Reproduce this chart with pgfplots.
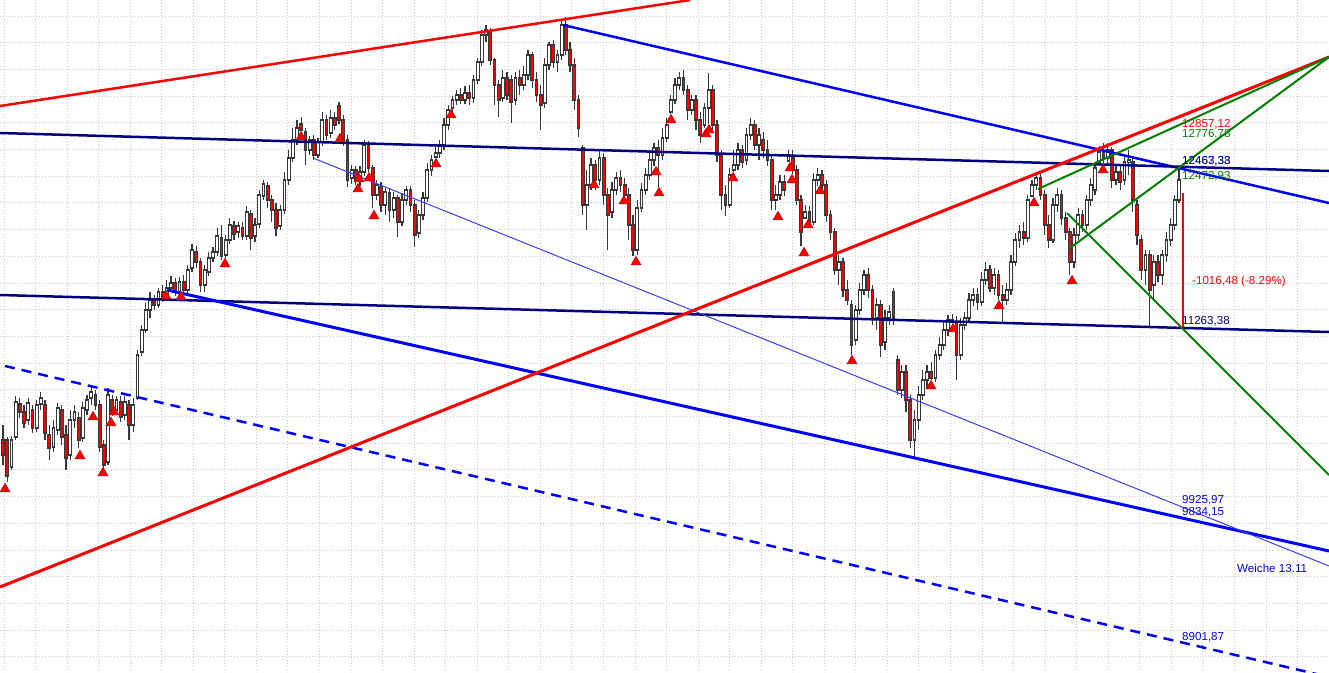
\documentclass[border=0pt]{standalone}
\usepackage{pgfplots}
\usepackage{pgfplotstable}
\pgfplotsset{compat=1.18}
\usepackage{fontspec}
\setmainfont{Liberation Sans}
\definecolor{navy}{RGB}{0,0,128}
\definecolor{pblue}{RGB}{0,0,255}
\definecolor{thinblue}{RGB}{60,60,255}
\definecolor{pgreen}{RGB}{0,128,0}
\definecolor{pred}{RGB}{255,0,0}
\definecolor{candle}{RGB}{56,56,56}
\definecolor{gridc}{RGB}{204,202,210}

\pgfplotstableread{
x o h l c
3 440 425 465 455
7.2 440 437 482 476
11.4 467 436 470 440
15.6 437 396 440 402
19.8 404 398 418 412
24 412 405 428 423
28.2 420 398 425 403
32.4 410 405 433 428
36.6 428 400 432 405
40.8 404 392 410 398
45 405 400 440 433
49.2 435 425 460 448
53.4 447 420 452 428
57.6 430 403 435 408
61.8 410 405 445 437
66 435 425 470 458
70.2 455 410 460 420
74.4 420 405 428 412
78.6 418 412 448 440
82.8 438 402 442 408
87 410 395 415 400
91.2 398 386 405 392
95.4 395 390 410 405
99.6 405 400 452 447
103.8 445 440 468 465
108 462 388 465 395
112.2 400 395 416 412
116.4 410 396 415 400
120.6 402 396 422 417
124.8 415 396 420 402
129 405 400 440 425
133.2 425 398 432 405
137.4 398 350 400 355
141.6 352 325 356 330
145.8 330 303 333 310
150 310 292 318 300
154.2 300 295 310 305
158.4 305 288 308 292
162.6 292 285 302 298
166.8 294 280 295 288
171 288 276 292 283
175.2 283 278 296 292
179.4 292 277 296 282
183.6 282 275 293 290
187.8 290 265 293 270
192 268 244 272 250
196.2 252 246 268 262
200.4 262 258 292 285
204.6 285 265 292 270
208.8 272 252 276 258
213 258 247 262 252
217.2 252 228 256 236
221.4 238 225 260 256
225.6 255 235 258 240
229.8 240 218 244 225
234 226 221 240 234
238.2 232 222 238 226
242.4 228 222 240 236
246.6 236 206 240 212
250.8 214 210 250 238
255 236 218 242 225
259.2 224 190 228 195
263.4 196 180 200 184
267.6 186 182 208 200
271.8 200 195 222 210
276 210 203 236 228
280.2 226 205 230 210
284.4 210 172 214 180
288.6 180 150 185 158
292.8 158 128 162 140
297 140 120 145 128
301.2 124 117 131 130
305.4 132 128 165 150
309.6 150 136 155 140
313.8 140 135 160 155
318 155 138 158 142
322.2 142 112 146 120
326.4 120 115 140 135
330.6 133 110 138 118
334.8 118 112 130 125
339 106 102 124 120
343.2 120 115 146 140
347.4 140 135 187 180
351.6 178 165 184 170
355.8 170 166 185 180
360 180 166 186 172
364.2 172 140 176 145
368.4 145 141 172 168
372.6 168 165 208 195
376.8 195 180 200 185
381 187 182 212 205
385.2 205 188 215 192
389.4 193 188 222 210
393.6 210 192 218 198
397.8 198 195 237 222
402 222 193 226 200
406.2 200 186 205 190
410.4 190 186 212 205
414.6 205 200 247 235
418.8 233 210 238 215
423 215 192 220 198
427.2 198 163 202 170
431.4 170 155 176 160
435.6 157 147 158 153
439.8 153 140 158 145
444 145 118 150 125
448.2 125 105 130 110
452.4 108 96 112 100
456.6 100 90 105 95
460.8 95 88 104 100
465 100 86 104 93
469.2 93 85 105 98
473.4 98 75 103 80
477.6 80 58 84 62
481.8 62 30 66 35
486 35 25 42 30
490.2 32 28 65 60
494.4 60 58 105 85
498.6 85 80 117 100
502.8 98 70 102 78
507 78 72 100 95
511.2 80 75 123 102
515.4 100 72 105 78
519.6 78 70 95 85
523.8 85 66 90 75
528 75 50 80 55
532.2 55 52 88 80
536.4 80 72 102 95
540.6 95 85 130 105
544.8 103 58 108 65
549 65 42 70 45
553.2 45 40 68 62
557.4 62 50 72 55
561.6 55 20 60 25
565.8 25 17 55 50
570 50 42 72 65
574.2 65 58 110 100
578.4 100 95 137 128
582.6 148 145 215 205
586.8 205 170 230 185
591 185 158 190 165
595.2 165 160 190 180
599.4 180 150 185 158
603.6 158 153 205 195
607.8 195 188 250 215
612 212 182 218 190
616.2 190 172 195 178
620.4 178 170 192 185
624.6 185 178 196 195
628.8 195 188 240 225
633 225 215 256 250
637.2 250 200 255 208
641.4 208 183 212 190
645.6 190 168 195 175
649.8 175 150 180 160
654 160 143 166 148
658.2 148 140 187 155
662.4 155 128 160 138
666.6 138 118 142 125
670.8 112 95 114 100
675 100 78 104 85
679.2 85 72 90 78
683.4 78 70 95 90
687.6 90 85 120 110
691.8 110 95 115 100
696 100 95 130 120
700.2 120 112 143 135
704.4 125 103 128 108
708.6 108 73 124 90
712.8 90 85 130 125
717 125 120 162 155
721.2 155 150 210 195
725.4 195 185 216 205
729.6 205 168 208 175
733.8 170 150 172 165
738 165 143 170 150
742.2 150 145 168 162
746.4 160 128 165 135
750.6 135 118 140 125
754.8 125 120 150 145
759 145 128 160 135
763.2 140 132 158 150
767.4 150 140 166 160
771.6 160 155 210 200
775.8 200 185 210 195
780 195 175 200 182
784.2 182 175 196 190
788.4 161 150 162 155
792.6 158 150 174 170
796.8 170 165 205 200
801 200 195 246 232
805.2 218 205 219 212
809.4 212 206 228 222
813.6 222 173 225 180
817.8 180 168 186 175
822 175 170 192 185
826.2 185 180 222 215
830.4 215 210 240 232
834.6 232 228 275 270
838.8 270 255 285 262
843 262 258 297 290
847.2 290 280 305 300
851.4 305 300 355 345
855.6 340 305 345 310
859.8 310 283 315 290
864 290 270 295 275
868.2 275 268 298 290
872.4 290 285 325 318
876.6 318 298 330 305
880.8 305 300 357 345
885 342 310 350 318
889.2 318 305 325 312
893.4 292 288 325 318
897.6 360 355 395 390
901.8 390 365 398 372
906 372 365 412 400
910.2 400 395 448 440
914.4 440 410 457 420
918.6 420 386 430 395
922.8 395 370 400 380
927 380 365 388 372
931.2 372 362 380 378
935.4 378 350 382 355
939.6 355 337 360 345
943.8 345 322 350 330
948 330 315 336 320
952.2 320 314 323 322
956.4 322 316 380 355
960.6 355 318 360 325
964.8 325 312 330 318
969 318 293 322 300
973.2 300 288 306 295
977.4 295 288 310 302
981.6 302 272 306 280
985.8 280 262 285 270
990 270 265 292 288
994.2 288 268 295 275
998.4 275 270 300 295
1002.6 295 285 322 300
1006.8 300 283 305 290
1011 290 255 295 262
1015.2 262 233 266 240
1019.4 240 225 248 232
1023.6 232 222 245 238
1027.8 238 195 242 200
1032 196 180 197 185
1036.2 185 172 190 178
1040.4 178 174 200 195
1044.6 195 190 235 225
1048.8 225 215 248 240
1053 240 198 243 205
1057.2 205 188 212 195
1061.4 195 190 225 218
1065.6 218 212 240 232
1069.8 232 228 275 262
1074 262 228 268 235
1078.2 235 208 240 215
1082.4 215 210 232 225
1086.6 225 195 230 200
1090.8 200 178 206 185
1095 190 165 195 168
1099.2 162 146 164 152
1103.4 152 143 163 158
1107.6 158 143 165 150
1111.8 150 147 188 180
1116 180 166 185 172
1120.2 172 165 190 182
1124.4 180 155 185 162
1128.6 162 150 175 160
1132.8 162 158 212 200
1137 205 200 245 235
1141.2 240 235 280 270
1145.4 270 250 285 255
1149.6 255 250 327 290
1153.8 285 255 300 262
1158 262 255 282 275
1162.2 275 250 285 255
1166.4 255 232 262 240
1170.6 240 218 246 225
1174.8 225 195 230 200
1179 200 168 203 180
}\candles

\begin{document}
\begin{tikzpicture}
\begin{axis}[
  at={(0,0)}, anchor=south west,
  width=1329pt, height=672pt, scale only axis,
  xmin=0, xmax=1329, ymin=0, ymax=672, y dir=reverse,
  axis line style={draw=none},
  xtick={4,35.55,...,1329}, ytick={16,42.7,...,660},
  xticklabel=\hbox{}, yticklabel=\hbox{},
  major tick length=0pt,
  grid=major,
  grid style={draw=gridc, line width=1pt, dash pattern=on 1.2pt off 1.8pt},
  clip=true,
]
% wicks
\addplot[draw=none, no markers, forget plot,
  error bars/.cd, y dir=plus, y explicit, error mark=none,
  error bar style={draw=candle, line width=1.2pt}]
  table[x=x, y=h, y error plus expr={\thisrow{l}-\thisrow{h}}] {\candles};
% body outline
\addplot[draw=none, no markers, forget plot,
  error bars/.cd, y dir=plus, y explicit, error mark=none,
  error bar style={draw=candle, line width=3.8pt, line cap=butt}]
  table[x=x, y expr={min(\thisrow{o},\thisrow{c})-0.6}, y error plus expr={abs(\thisrow{c}-\thisrow{o})+1.2}] {\candles};
% rising bodies (white)
\addplot[draw=none, no markers, forget plot,
  error bars/.cd, y dir=plus, y explicit, error mark=none,
  error bar style={draw=white, line width=1.8pt, line cap=butt}]
  table[x=x, y expr={\thisrow{c}+0.6}, y error plus expr={max(\thisrow{o}-\thisrow{c}-1.2,0)}] {\candles};
% falling bodies (red)
\addplot[draw=none, no markers, forget plot,
  error bars/.cd, y dir=plus, y explicit, error mark=none,
  error bar style={draw=pred, line width=1.8pt, line cap=butt}]
  table[x=x, y expr={\thisrow{o}+0.6}, y error plus expr={max(\thisrow{c}-\thisrow{o}-1.2,0)}] {\candles};

% markers
\addplot[only marks, mark=triangle*, mark size=5.6pt,
  mark options={fill=pred, draw=pred!75!black, line width=0.6pt}]
  coordinates {(5,489) (80,456) (93,417) (103,473) (111,423) (114,412)
  (166,296) (181,297) (225,264) (301,137) (340,139) (358,189) (359,179) (369,178) (374,216) (436,164)
  (451,115) (594,185) (624,201) (636,262) (656,172) (659,193) (671,120) (706,134) (709,130) (733,178)
  (778,217) (790,168) (792,180) (804,253) (808,225) (820,191) (852,361) (931,386) (953,329) (999,306)
  (1034,203) (1072,281) (1103,170)};

% trend lines
\addplot[pred, line width=2.5pt] coordinates {(0,106) (690,0)};
\addplot[pblue, line width=2.5pt] coordinates {(563,25) (1329,203)};
\addplot[navy, line width=2.5pt] coordinates {(0,133) (1329,171)};
\addplot[navy, line width=2.5pt] coordinates {(0,295) (1329,332)};
\addplot[pblue, line width=3pt] coordinates {(167,290) (1329,551)};
\addplot[thinblue, line width=1pt] coordinates {(313,158) (1329,566)};
\addplot[pblue, line width=2.5pt, dash pattern=on 10pt off 7pt] coordinates {(5,366) (1329,677)};
\addplot[pred, line width=3pt] coordinates {(0,587) (1329,57)};
\addplot[pgreen, line width=2pt] coordinates {(1038,189) (1329,57)};
\addplot[pgreen, line width=2pt] coordinates {(1070,248) (1329,57)};
\addplot[pgreen, line width=2pt] coordinates {(1067,213) (1329,475)};
\addplot[pred, line width=1.5pt] coordinates {(1183,193) (1183,327)};

% labels
\begin{scope}[every node/.style={anchor=west, inner sep=0pt, font=\fontsize{11.6pt}{13pt}\selectfont}]
\node[text=pred] at (axis cs:1182,124) {12857,12};
\node[text=pgreen] at (axis cs:1182,134) {12776,78};
\node[text=navy] at (axis cs:1182,161) {12463,33};
\node[text=pblue, opacity=0.7] at (axis cs:1182,161) {12467,38};
\node[text=pgreen] at (axis cs:1182,176) {12472,93};
\node[text=pred] at (axis cs:1192,281) {-1016,48 (-8.29\%)};
\node[text=navy] at (axis cs:1182,321) {11263,38};
\node[text=pblue] at (axis cs:1182,500) {9925,97};
\node[text=pblue] at (axis cs:1182,512) {9834,15};
\node[text=pblue] at (axis cs:1237,568) {Weiche 13.11};
\node[text=pblue] at (axis cs:1182,637) {8901,87};
\end{scope}
\end{axis}
\pgfresetboundingbox
\path[use as bounding box] (0,0) rectangle (1329pt,672pt);
\end{tikzpicture}
\end{document}
